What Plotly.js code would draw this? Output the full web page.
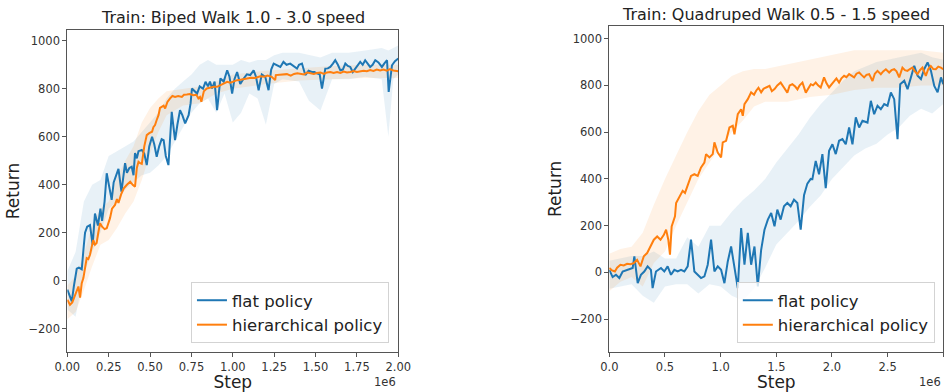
<!DOCTYPE html>
<html>
<head>
<meta charset="utf-8">
<script src="https://cdn.plot.ly/plotly-3.0.1.min.js"></script>
<style>html,body{margin:0;padding:0;background:#fff;}#chart{width:951px;height:392px;}</style>
</head>
<body>
<div id="chart"></div>
<script>
// ---------- DATA (x in millions of steps) ----------
const bipedFlatX = [0.00,0.01,0.027,0.04,0.057,0.07,0.087,0.10,0.107,0.12,0.137,0.153,0.167,0.185,0.20,0.21,0.225,0.238,0.255,0.268,0.28,0.295,0.309,0.327,0.338,0.349,0.36,0.375,0.389,0.40,0.409,0.42,0.43,0.45,0.465,0.48,0.495,0.512,0.525,0.54,0.555,0.57,0.582,0.595,0.611,0.631,0.64,0.651,0.665,0.681,0.695,0.712,0.733,0.745,0.753,0.77,0.784,0.80,0.82,0.835,0.85,0.862,0.875,0.89,0.905,0.925,0.945,0.966,0.98,0.996,1.01,1.026,1.045,1.066,1.085,1.105,1.126,1.14,1.156,1.175,1.196,1.216,1.232,1.247,1.265,1.287,1.306,1.325,1.347,1.365,1.388,1.40,1.418,1.438,1.458,1.478,1.493,1.508,1.525,1.539,1.559,1.574,1.589,1.605,1.619,1.635,1.65,1.665,1.68,1.695,1.71,1.725,1.74,1.755,1.77,1.785,1.80,1.815,1.83,1.845,1.861,1.88,1.901,1.915,1.932,1.942,1.952,1.962,1.98,2.00];
const bipedFlatY = [-37,-55,-86,-20,50,55,48,150,200,225,232,150,280,230,300,250,330,448,380,337,410,440,466,371,440,490,450,470,475,440,532,510,540,545,530,482,560,600,570,517,560,590,586,520,482,704,650,586,650,711,690,656,690,740,801,790,780,810,800,829,810,830,801,830,711,843,830,877,850,780,840,870,820,843,860,857,877,850,794,860,850,794,880,905,900,891,912,900,905,895,884,900,905,857,875,870,870,864,860,801,884,885,891,905,919,900,877,880,905,895,891,870,884,895,912,900,919,905,891,900,919,910,891,905,919,787,850,898,915,926];

const bipedHierX = [0.00,0.016,0.03,0.047,0.06,0.067,0.077,0.087,0.097,0.107,0.117,0.127,0.137,0.147,0.157,0.167,0.177,0.187,0.198,0.21,0.225,0.238,0.248,0.258,0.27,0.288,0.30,0.309,0.325,0.341,0.36,0.38,0.395,0.409,0.42,0.43,0.44,0.45,0.465,0.48,0.495,0.512,0.52,0.53,0.54,0.551,0.56,0.572,0.582,0.591,0.605,0.621,0.635,0.651,0.67,0.692,0.705,0.722,0.74,0.762,0.78,0.792,0.802,0.81,0.825,0.843,0.865,0.885,0.905,0.925,0.945,0.966,0.985,1.005,1.026,1.046,1.066,1.086,1.11,1.135,1.166,1.19,1.21,1.235,1.256,1.26,1.28,1.305,1.327,1.35,1.37,1.39,1.408,1.43,1.45,1.47,1.49,1.508,1.53,1.55,1.57,1.59,1.609,1.63,1.65,1.67,1.69,1.71,1.73,1.75,1.77,1.79,1.81,1.83,1.85,1.87,1.89,1.911,1.93,1.95,1.97,1.985,2.00];
const bipedHierY = [-79,-100,-90,-58,-40,-24,-70,-10,11,60,94,90,108,140,170,150,157,200,240,225,215,219,240,261,300,316,340,324,360,385,400,413,400,392,470,496,490,487,560,607,615,621,640,649,670,690,720,725,730,718,745,760,770,766,770,766,775,776,778,773,775,760,766,746,790,801,805,808,808,815,820,829,825,832,836,838,840,843,846,845,852,850,855,850,836,857,858,860,861,855,862,865,864,860,868,865,862,866,868,862,868,870,866,870,866,872,868,870,874,870,872,875,873,878,874,880,876,880,875,882,876,874,873];

const bipedFlatBandX = [0,0.05,0.1,0.15,0.2,0.25,0.3,0.35,0.4,0.45,0.5,0.55,0.6,0.65,0.7,0.75,0.8,0.85,0.9,0.95,1.0,1.05,1.1,1.15,1.2,1.25,1.3,1.4,1.46,1.53,1.6,1.7,1.8,1.9,1.94,1.97,2.0];
const bipedFlatLo = [-120,-150,30,120,200,300,330,380,410,440,450,480,520,580,640,700,740,760,700,780,660,700,780,760,650,820,840,830,750,710,840,840,850,840,600,840,860];
const bipedFlatHi = [40,120,330,400,420,520,540,560,580,620,660,700,760,800,830,860,900,920,900,900,900,920,910,920,920,940,950,950,940,930,950,950,960,970,960,970,980];

const bipedHierBandX = [0,0.05,0.1,0.15,0.2,0.25,0.3,0.35,0.4,0.45,0.5,0.55,0.6,0.7,0.8,0.9,1.0,1.2,1.4,1.6,1.8,2.0];
const bipedHierLo = [-160,-130,-40,60,150,170,220,280,330,420,530,620,690,730,740,780,800,820,835,840,845,845];
const bipedHierHi = [-20,20,110,230,300,330,430,500,560,660,720,760,790,800,810,830,860,875,885,895,900,900];

const quadFlatX = [0.0,0.03,0.06,0.09,0.12,0.165,0.21,0.225,0.255,0.284,0.314,0.344,0.374,0.389,0.419,0.464,0.494,0.524,0.554,0.584,0.614,0.644,0.674,0.704,0.734,0.764,0.794,0.824,0.854,0.884,0.914,0.944,0.974,1.004,1.034,1.064,1.094,1.124,1.154,1.184,1.214,1.244,1.274,1.304,1.334,1.364,1.394,1.424,1.454,1.484,1.509,1.539,1.569,1.599,1.629,1.659,1.689,1.719,1.749,1.779,1.809,1.824,1.854,1.884,1.914,1.944,1.974,2.004,2.034,2.064,2.094,2.124,2.154,2.184,2.214,2.244,2.274,2.319,2.349,2.379,2.409,2.439,2.469,2.499,2.529,2.559,2.589,2.613,2.649,2.679,2.709,2.739,2.769,2.799,2.829,2.859,2.889,2.919,2.949,2.979,3.0];
const quadFlatY = [11,-20,-10,-24,4,11,19,69,-46,-10,4,26,11,-67,4,19,4,26,-10,11,4,11,4,26,140,4,-10,-24,-17,33,140,4,26,11,-46,47,111,11,-67,190,33,169,33,111,-60,97,183,226,254,197,269,226,283,297,283,311,297,183,330,380,400,399,477,420,506,360,520,548,506,563,570,548,620,548,663,620,649,641,734,677,713,698,720,713,770,741,570,805,820,784,834,884,841,827,870,898,862,798,770,834,805];

const quadHierX = [0.0,0.02,0.05,0.07,0.1,0.13,0.16,0.19,0.22,0.25,0.28,0.31,0.34,0.37,0.40,0.43,0.46,0.49,0.51,0.53,0.545,0.56,0.59,0.60,0.63,0.659,0.68,0.704,0.734,0.764,0.794,0.824,0.854,0.869,0.899,0.929,0.944,0.974,1.004,1.019,1.049,1.079,1.109,1.124,1.154,1.184,1.199,1.214,1.244,1.274,1.30,1.319,1.34,1.364,1.385,1.409,1.439,1.46,1.484,1.509,1.539,1.57,1.599,1.62,1.644,1.67,1.69,1.71,1.735,1.765,1.79,1.81,1.83,1.854,1.875,1.899,1.929,1.95,1.974,2.0,2.019,2.04,2.064,2.085,2.109,2.13,2.154,2.175,2.199,2.22,2.244,2.265,2.289,2.31,2.334,2.364,2.385,2.409,2.439,2.46,2.484,2.514,2.535,2.559,2.58,2.604,2.633,2.655,2.678,2.70,2.723,2.745,2.768,2.79,2.813,2.843,2.865,2.888,2.91,2.933,2.955,2.978,3.0];
const quadHierY = [19,10,4,20,33,30,37,35,40,54,26,69,83,111,140,154,140,161,183,140,76,197,240,297,326,349,340,377,413,420,413,449,470,506,492,506,556,513,492,556,563,620,627,591,677,698,670,720,741,770,760,777,790,770,785,791,798,775,784,800,812,790,769,800,805,795,783,800,812,769,790,805,800,812,800,791,834,810,791,805,819,830,812,830,841,835,848,840,834,850,855,845,834,845,848,819,850,862,848,860,869,855,865,869,860,834,876,865,862,870,876,860,848,865,876,841,870,883,870,869,880,876,869];

const quadFlatBandX = [0,0.2,0.3,0.4,0.5,0.6,0.7,0.8,0.9,1.0,1.1,1.2,1.3,1.4,1.5,1.6,1.7,1.8,1.9,2.0,2.1,2.2,2.3,2.4,2.5,2.6,2.7,2.8,2.9,3.0];
const quadFlatLo = [-70,-50,-100,-130,-60,-50,-50,-90,-50,-60,-100,-120,-70,20,120,170,220,280,330,400,450,500,530,550,590,620,670,700,680,720];
const quadFlatHi = [50,70,70,90,60,60,150,110,200,200,260,310,350,400,470,530,590,660,720,770,820,860,880,900,910,920,930,940,920,910];

const quadHierBandX = [0,0.1,0.2,0.3,0.4,0.5,0.6,0.7,0.8,0.9,1.0,1.1,1.2,1.3,1.4,1.6,1.8,2.0,2.2,2.4,2.6,2.8,3.0];
const quadHierLo = [-80,-40,-20,-60,40,90,200,300,400,470,540,600,650,710,730,730,750,760,780,790,790,800,800];
const quadHierHi = [80,100,110,170,290,400,500,600,690,760,800,840,860,870,870,890,910,930,950,950,950,950,940];

const yTickVals = [-200,0,200,400,600,800,1000];
const yTickText = ['\u2212200','0','200','400','600','800','1000'];
const bipedXTicks = [0,0.25,0.5,0.75,1.0,1.25,1.5,1.75,2.0];
const quadXTicks = [0,0.5,1.0,1.5,2.0,2.5,3.0];
const seriesNames = ['flat policy','hierarchical policy'];
const panelTitles = ['Train: Biped Walk 1.0 - 3.0 speed','Train: Quadruped Walk 0.5 - 1.5 speed'];

// ---------- STYLE ----------
const BLUE = '#1f77b4', ORANGE = '#ff7f0e';
const BLUE_F = 'rgba(31,119,180,0.1)', ORANGE_F = 'rgba(255,127,14,0.1)';
const FONT = 'DejaVu Sans';

function band(x, lo, hi, fill, xa, ya) {
  return [
    {x: x, y: lo, xaxis: xa, yaxis: ya, mode: 'lines', line: {width: 0}, showlegend: false, hoverinfo: 'skip'},
    {x: x, y: hi, xaxis: xa, yaxis: ya, mode: 'lines', line: {width: 0}, fill: 'tonexty', fillcolor: fill, showlegend: false, hoverinfo: 'skip'}
  ];
}

const traces = [].concat(
  band(bipedFlatBandX, bipedFlatLo, bipedFlatHi, BLUE_F, 'x', 'y'),
  band(bipedHierBandX, bipedHierLo, bipedHierHi, ORANGE_F, 'x', 'y'),
  band(quadFlatBandX, quadFlatLo, quadFlatHi, BLUE_F, 'x2', 'y2'),
  band(quadHierBandX, quadHierLo, quadHierHi, ORANGE_F, 'x2', 'y2'),
  [
    {x: bipedFlatX, y: bipedFlatY, xaxis: 'x', yaxis: 'y', mode: 'lines', name: seriesNames[0], line: {color: BLUE, width: 2}, legend: 'legend'},
    {x: bipedHierX, y: bipedHierY, xaxis: 'x', yaxis: 'y', mode: 'lines', name: seriesNames[1], line: {color: ORANGE, width: 2}, legend: 'legend'},
    {x: quadFlatX, y: quadFlatY, xaxis: 'x2', yaxis: 'y2', mode: 'lines', name: seriesNames[0], line: {color: BLUE, width: 2}, legend: 'legend2'},
    {x: quadHierX, y: quadHierY, xaxis: 'x2', yaxis: 'y2', mode: 'lines', name: seriesNames[1], line: {color: ORANGE, width: 2}, legend: 'legend2'}
  ]
);

const axisBase = {
  showline: true, mirror: true, linecolor: '#555', linewidth: 1,
  ticks: 'outside', ticklen: 4, tickwidth: 1, tickcolor: '#555',
  showgrid: false, zeroline: false,
  tickfont: {family: FONT, size: 11.5, color: '#333'}
};

function xAxis(domain, range, ticks, fmt, anchor) {
  return Object.assign({}, axisBase, {
    domain: domain, range: range, anchor: anchor,
    tickmode: 'array', tickvals: ticks, tickformat: fmt,
    title: {text: 'Step', font: {family: FONT, size: 17, color: '#222'}, standoff: 5}
  });
}
function yAxis(domain, range, anchor) {
  return Object.assign({}, axisBase, {
    domain: domain, range: range, anchor: anchor,
    tickmode: 'array', tickvals: yTickVals, ticktext: yTickText,
    title: {text: 'Return', font: {family: FONT, size: 17, color: '#222'}, standoff: 4}
  });
}

const legendBase = {
  font: {family: FONT, size: 16.5, color: '#222'},
  bgcolor: 'rgba(255,255,255,0.8)', bordercolor: '#d3d3d3', borderwidth: 1,
  xanchor: 'right', yanchor: 'bottom', tracegroupgap: 0, traceorder: 'normal'
};

const layout = {
  width: 951, height: 392,
  margin: {l: 0, r: 0, t: 0, b: 0},
  paper_bgcolor: '#fff', plot_bgcolor: '#fff',
  font: {family: FONT, color: '#222'},
  xaxis: xAxis([0.0708, 0.4188], [0, 2.0], bipedXTicks, '.2f', 'y'),
  yaxis: yAxis([0.102, 0.9235], [-297, 1045], 'x'),
  xaxis2: xAxis([0.6407, 0.9919], [0, 3.0], quadXTicks, '.1f', 'y2'),
  yaxis2: yAxis([0.1028, 0.9337], [-339, 1054], 'x2'),
  legend: Object.assign({}, legendBase, {x: 0.409, y: 0.125}),
  legend2: Object.assign({}, legendBase, {x: 0.983, y: 0.125}),
  showlegend: true,
  annotations: [
    {text: panelTitles[0], xref: 'paper', yref: 'paper', x: 0.2448, y: 0.956, xanchor: 'center', yanchor: 'middle', showarrow: false, font: {family: FONT, size: 16, color: '#222'}},
    {text: panelTitles[1], xref: 'paper', yref: 'paper', x: 0.8163, y: 0.964, xanchor: 'center', yanchor: 'middle', showarrow: false, font: {family: FONT, size: 16, color: '#222'}},
    {text: '1e6', xref: 'paper', yref: 'paper', x: 0.4188, y: 0.026, xanchor: 'right', yanchor: 'middle', showarrow: false, font: {family: FONT, size: 11.5, color: '#333'}},
    {text: '1e6', xref: 'paper', yref: 'paper', x: 0.9919, y: 0.026, xanchor: 'right', yanchor: 'middle', showarrow: false, font: {family: FONT, size: 11.5, color: '#333'}}
  ]
};

Plotly.newPlot('chart', traces, layout, {displayModeBar: false, staticPlot: true});
</script>
</body>
</html>
